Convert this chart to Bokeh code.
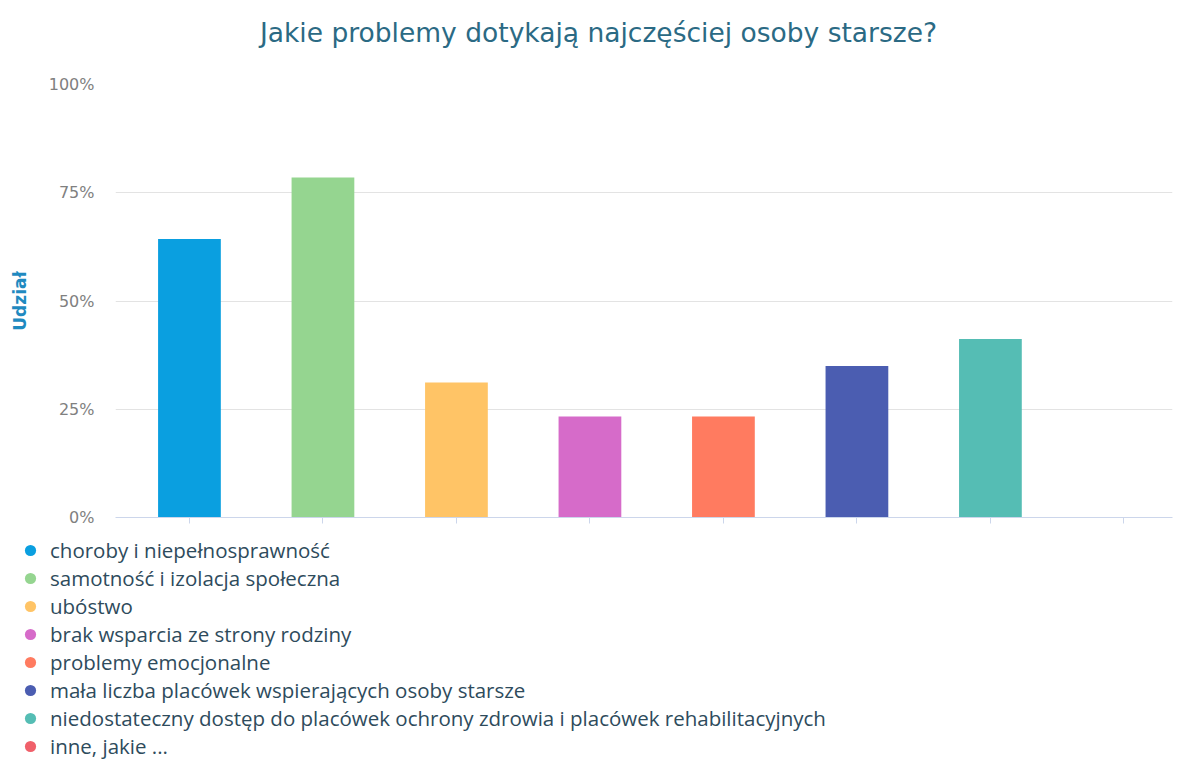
from bokeh.plotting import figure
from bokeh.models import (ColumnDataSource, Range1d, FixedTicker, Legend, LegendItem,
                          CustomJSTickFormatter)
from bokeh.core.properties import value
from bokeh.layouts import column
from bokeh.embed import file_html
from bokeh.resources import INLINE

title_text = "Jakie problemy dotykają najczęściej osoby starsze?"
categories = [
    "choroby i niepełnosprawność",
    "samotność i izolacja społeczna",
    "ubóstwo",
    "brak wsparcia ze strony rodziny",
    "problemy emocjonalne",
    "mała liczba placówek wspierających osoby starsze",
    "niedostateczny dostęp do placówek ochrony zdrowia i placówek rehabilitacyjnych",
    "inne, jakie ...",
]
shares = [64.3, 78.5, 31.2, 23.3, 23.3, 35.0, 41.2, 0.0]
colors = ["#0a9fe0", "#95d590", "#ffc466", "#d66bc9", "#ff7b60", "#4b5db1", "#55bdb4", "#f0606a"]
y_ticks = [0, 25, 50, 75, 100]

idx = list(range(len(categories)))
src = ColumnDataSource(dict(x=idx, top=shares, color=colors, cat=categories,
                            nx=[float("nan")] * len(idx)))

W = 1173
HEAD_H = 60
TOP_H = 469

# header with the title
h = figure(width=W, height=HEAD_H, output_backend="svg", toolbar_location=None,
           x_range=Range1d(0, W), y_range=Range1d(HEAD_H, 0),
           x_axis_location=None, y_axis_location=None,
           min_border_left=0, min_border_right=0, min_border_top=0, min_border_bottom=0)
h.outline_line_color = None
h.frame_align = False
h.xgrid.grid_line_color = None
h.ygrid.grid_line_color = None
h.text(x=[598], y=[32], text=[title_text], text_align="center", text_baseline="alphabetic",
       text_font=value("DejaVu Sans"), text_font_size="26.5px", text_color="#2b6a84")

p = figure(width=W, height=TOP_H, output_backend="svg", toolbar_location=None,
           x_range=Range1d(-0.554, 7.364), y_range=Range1d(0, 100),
           min_border_left=115, min_border_right=1, min_border_top=24,
           min_border_bottom=12)
p.outline_line_color = None
p.frame_align = False

p.vbar(x="x", top="top", bottom=0, width=0.47, fill_color="color", line_color=None, source=src)

p.xaxis.ticker = FixedTicker(ticks=idx)
p.xaxis.major_label_text_font_size = "0px"
p.xaxis.major_label_text_alpha = 0
p.xaxis.major_label_standoff = 0
p.xaxis.axis_line_color = "#ccd6eb"
p.xaxis.major_tick_line_color = "#ccd6eb"
p.xaxis.major_tick_out = 6
p.xaxis.major_tick_in = 0
p.xaxis.minor_tick_line_color = None
p.xgrid.grid_line_color = None

p.yaxis.ticker = FixedTicker(ticks=y_ticks)
p.yaxis.formatter = CustomJSTickFormatter(code="return tick + '%';")
p.yaxis.axis_line_color = None
p.yaxis.major_tick_line_color = None
p.yaxis.minor_tick_line_color = None
p.yaxis.major_label_standoff = 15
p.yaxis.major_label_text_font = "DejaVu Sans"
p.yaxis.major_label_text_font_size = "16px"
p.yaxis.major_label_text_color = "#808080"
p.yaxis.axis_label = "Udział"
p.yaxis.axis_label_text_font = "DejaVu Sans"
p.yaxis.axis_label_text_font_style = "bold"
p.yaxis.axis_label_text_font_size = "17px"
p.yaxis.axis_label_text_color = "#1f8ac0"
p.yaxis.axis_label_standoff = 16
p.ygrid.grid_line_color = "#e3e3e3"

# legend panel
LEG_H = 759 - HEAD_H - TOP_H
q = figure(width=W, height=LEG_H, output_backend="svg", toolbar_location=None,
           x_range=Range1d(0, 1), y_range=Range1d(0, 1),
           x_axis_location=None, y_axis_location=None,
           min_border_left=0, min_border_right=0, min_border_top=0, min_border_bottom=0)
q.outline_line_color = None
q.frame_align = False
q.xgrid.grid_line_color = None
q.ygrid.grid_line_color = None
leg_r = q.scatter(x="nx", y="top", marker="circle", size=12, fill_color="color",
                  line_color=None, source=src)
items = [LegendItem(label=c, renderers=[leg_r], index=i) for i, c in enumerate(categories)]
legend = Legend(items=items, location=(16, LEG_H - 7 - 224), orientation="vertical",
                glyph_height=28, glyph_width=28, label_height=28, spacing=0,
                label_standoff=6, padding=0, margin=0,
                border_line_color=None, background_fill_alpha=0,
                label_text_font="Open Sans", label_text_font_size="20.5px",
                label_text_color="#2e4b5c")
q.add_layout(legend, "center")

layout = column(h, p, q, spacing=0)
open("out.html", "w").write(file_html(layout, INLINE))
